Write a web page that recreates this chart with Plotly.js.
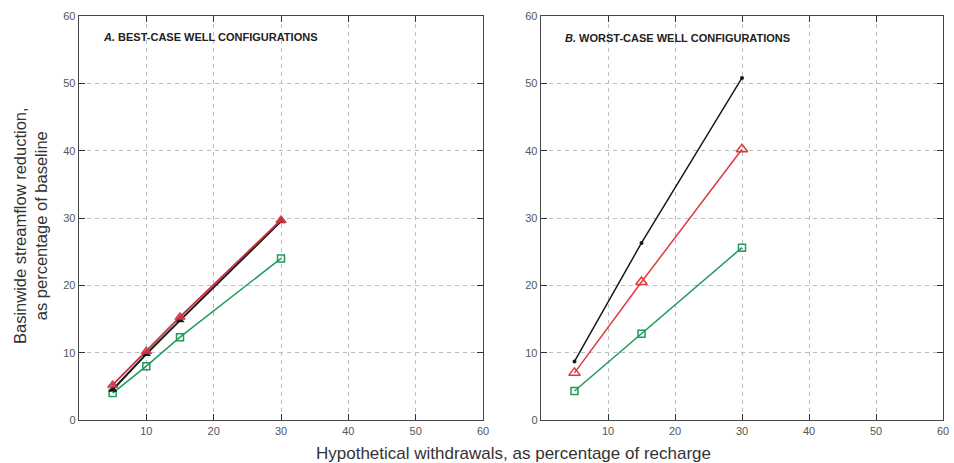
<!DOCTYPE html>
<html>
<head>
<meta charset="utf-8">
<script src="https://cdn.plot.ly/plotly-3.0.1.min.js"></script>
<style>html,body{margin:0;padding:0;background:#fff;}#chart{width:954px;height:463px;}</style>
</head>
<body>
<div id="chart"></div>
<script>
// Panel A: best-case well configurations
const xA = [5, 10, 15, 30];
const blackA = [4.5, 9.8, 14.8, 29.5];
const redA = [5.2, 10.2, 15.3, 29.7];
const greenA = [4.0, 8.0, 12.3, 24.0];
// Panel B: worst-case well configurations
const xB = [5, 15, 30];
const blackB = [8.7, 26.3, 50.8];
const redB = [7.0, 20.5, 40.2];
const greenB = [4.3, 12.8, 25.6];

const xTicks = [10, 20, 30, 40, 50, 60];
const yTicks = [0, 10, 20, 30, 40, 50, 60];
const titleA = "<b><i>A.</i> BEST-CASE WELL CONFIGURATIONS</b>";
const titleB = "<b><i>B.</i> WORST-CASE WELL CONFIGURATIONS</b>";
const yTitle = "Basinwide streamflow reduction,<br>as percentage of baseline";
const xTitle = "Hypothetical withdrawals, as percentage of recharge";

const RED = '#e0393e', GREEN = '#1e9a5c', BLACK = '#1a1a1a';

const traces = [
  {x: xA, y: greenA, xaxis: 'x', yaxis: 'y', mode: 'lines+markers',
   line: {color: GREEN, width: 1.5}, marker: {symbol: 'square-open', size: 7, color: GREEN, line: {width: 1.5}}},
  {x: xA, y: blackA, xaxis: 'x', yaxis: 'y', mode: 'lines+markers',
   line: {color: BLACK, width: 2}, marker: {symbol: 'triangle-up', size: 8, color: BLACK}},
  {x: xA, y: redA, xaxis: 'x', yaxis: 'y', mode: 'lines+markers',
   line: {color: '#c8313f', width: 1.8}, marker: {symbol: 'triangle-up', size: 9, color: 'rgba(214,50,65,0.85)', line: {color: '#c8313f', width: 1}}},
  {x: xB, y: greenB, xaxis: 'x2', yaxis: 'y2', mode: 'lines+markers',
   line: {color: GREEN, width: 1.5}, marker: {symbol: 'square-open', size: 7, color: GREEN, line: {width: 1.5}}},
  {x: xB, y: redB, xaxis: 'x2', yaxis: 'y2', mode: 'lines+markers',
   line: {color: RED, width: 1.5}, marker: {symbol: 'triangle-up-open', size: 10, color: RED, line: {width: 1.5}}},
  {x: xB, y: blackB, xaxis: 'x2', yaxis: 'y2', mode: 'lines+markers',
   line: {color: BLACK, width: 1.5}, marker: {symbol: 'circle', size: 4, color: BLACK}}
];

const W = 954, H = 463;
const yDom = [(H - 420) / H, (H - 16) / H];
const common = {
  range: [0, 60], showline: true, linecolor: '#444', linewidth: 1.3, mirror: 'ticks',
  ticks: 'inside', ticklen: 6, tickcolor: '#333', tickwidth: 1,
  showgrid: true, gridcolor: '#bdbdbd', griddash: '4px,4px', gridwidth: 1,
  zeroline: false, tickfont: {family: 'Liberation Sans Narrow, Arial', size: 11, color: '#555'},
  fixedrange: true
};
function xax(dom, anchor) {
  return Object.assign({}, common, {domain: dom, anchor: anchor, tickvals: xTicks});
}
function yax(anchor) {
  return Object.assign({}, common, {domain: yDom, anchor: anchor, tickvals: yTicks});
}

const layout = {
  width: W, height: H, showlegend: false,
  margin: {l: 0, r: 0, t: 0, b: 0},
  paper_bgcolor: '#fff', plot_bgcolor: '#fff',
  xaxis: xax([79 / W, 483 / W], 'y'),
  yaxis: yax('x'),
  xaxis2: xax([541 / W, 943 / W], 'y2'),
  yaxis2: yax('x2'),
  annotations: [
    {text: titleA, xref: 'paper', yref: 'paper', x: 101 / W, y: (H - 37) / H, xanchor: 'left', yanchor: 'middle',
     showarrow: false, font: {family: 'Liberation Sans Narrow, Arial Narrow, Arial', size: 11, color: '#222'}},
    {text: titleB, xref: 'paper', yref: 'paper', x: 563 / W, y: (H - 38) / H, xanchor: 'left', yanchor: 'middle',
     showarrow: false, font: {family: 'Liberation Sans Narrow, Arial Narrow, Arial', size: 11, color: '#222'}},
    {text: yTitle, xref: 'paper', yref: 'paper', x: 30 / W, y: (H - 226) / H, xanchor: 'center', yanchor: 'middle',
     textangle: -90, showarrow: false, font: {family: 'Liberation Sans, Arial', size: 16.5, color: '#333'}},
    {text: xTitle, xref: 'paper', yref: 'paper', x: 513 / W, y: (H - 453) / H, xanchor: 'center', yanchor: 'middle',
     showarrow: false, font: {family: 'Liberation Sans, Arial', size: 17, color: '#333'}}
  ]
};

Plotly.newPlot('chart', traces, layout, {displayModeBar: false, staticPlot: true});
</script>
</body>
</html>
